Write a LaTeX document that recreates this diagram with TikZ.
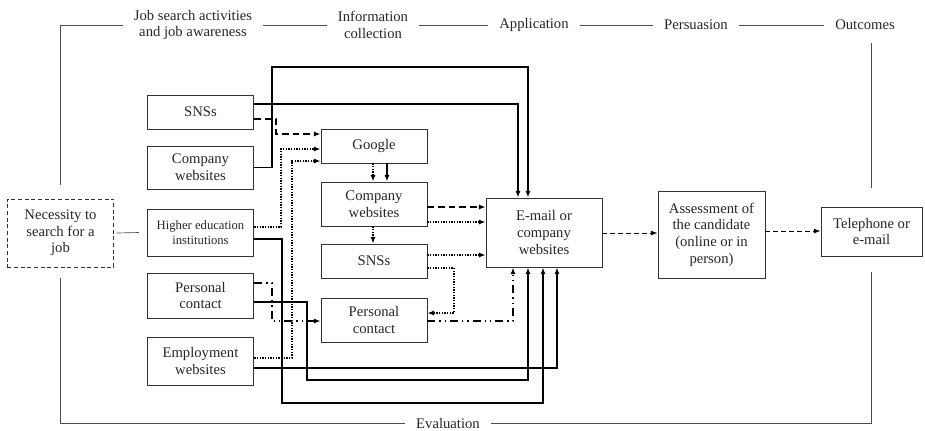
\documentclass[tikz,border=0pt]{standalone}
\usepackage{fontspec}
\setmainfont{Liberation Serif}
\usetikzlibrary{arrows.meta,calc}
\tikzset{
  box/.style={draw=black!80, line width=0.6pt, align=center, inner sep=2pt},
  startbox/.style={box, dashed, dash pattern=on 3pt off 2pt},
  stage/.style={align=center, inner xsep=8pt, inner ysep=2pt},
  frame/.style={draw=black!70, line width=0.5pt},
  solidflow/.style={-{Latex[length=5pt,width=3.8pt]}, line width=1.2pt},
  dashflow/.style={solidflow, dash pattern=on 5pt off 3pt},
  lightdash/.style={solidflow, line width=0.7pt, dash pattern=on 3.5pt off 2.5pt},
  dotflow/.style={solidflow, line width=1pt, dash pattern=on 1pt off 1pt},
  dashdotflow/.style={solidflow, dash pattern=on 6pt off 3pt on 1pt off 3pt on 1pt off 3pt}
}

\begin{document}
\begin{tikzpicture}[x=0.75pt, y=-0.75pt,
  every node/.style={font=\fontsize{11}{12.5}\selectfont, text=black!85}]
  \useasboundingbox (0,0) rectangle (925,430);

  % stages
  \node[stage] (h1) at (193,25) {Job search activities\\and job awareness};
  \node[stage] (h2) at (373,25) {Information\\collection};
  \node[stage] (h3) at (534,25) {Application};
  \node[stage] (h4) at (696,25) {Persuasion};
  \node[stage] (h5) at (865,25) {Outcomes};
  \node[stage] (eval) at (448,423) {Evaluation};

  % boxes
  \node[startbox, minimum width=80pt, minimum height=51pt] (need) at (60.5,233) {Necessity to\\search for a\\job};

  \node[box, minimum width=80pt, minimum height=25.5pt] (sns1) at (200.5,112) {SNSs};
  \node[box, minimum width=80pt, minimum height=32.3pt] (web1) at (200.5,167.5) {Company\\websites};
  \node[box, minimum width=80pt, minimum height=35.3pt, font=\fontsize{9.5}{10.8}\selectfont] (hei) at (200.5,232.5) {Higher education\\institutions};
  \node[box, minimum width=80pt, minimum height=33.8pt] (pc1) at (200.5,295.5) {Personal\\contact};
  \node[box, minimum width=80pt, minimum height=36pt] (emp) at (200.5,361) {Employment\\websites};

  \node[box, minimum width=79.5pt, minimum height=25.5pt] (google) at (374,146) {Google};
  \node[box, minimum width=79.5pt, minimum height=33pt] (web2) at (374,204) {Company\\websites};
  \node[box, minimum width=79.5pt, minimum height=25.5pt] (sns2) at (374,261) {SNSs};
  \node[box, minimum width=79.5pt, minimum height=33pt] (pc2) at (374,320) {Personal\\contact};

  \node[box, minimum width=87pt, minimum height=51.8pt] (email) at (544,232.5) {E-mail or\\company\\websites};
  \node[box, minimum width=80.3pt, minimum height=65.3pt] (assess) at (711.5,234.5) {Assessment of\\the candidate\\(online or in\\person)};
  \node[box, minimum width=75.8pt, minimum height=36.8pt] (phone) at (871.5,231.5) {Telephone or\\e-mail};

  % frame round the process
  \draw[frame] ([yshift=10pt]need.north) |- (h1.west);
  \draw[frame] (h1.east) -- (h2.west);
  \draw[frame] (h2.east) -- (h3.west);
  \draw[frame] (h3.east) -- (h4.west);
  \draw[frame] (h4.east) -- (h5.west);
  \draw[frame] ($(h5.south -| phone.north)+(0,10)$) -- ([yshift=14pt]phone.north);
  \draw[frame] ([yshift=-8pt]need.south) |- (eval.west);
  \draw[frame] (eval.east) -| ([yshift=-12pt]phone.south);
  \draw[frame] ([xshift=2pt]need.east) -- ([xshift=-6pt]hei.west);

  % direct applications
  \draw[solidflow] (sns1.east |- 0,104) -| (email.north -| 518,0);
  \draw[solidflow] (web1.east) -| (272,67) -| (email.north -| 528,0);
  \draw[solidflow] (hei.east |- 0,239) -| (282,403) -| (email.south -| 543,0);
  \draw[solidflow] (pc1.east |- 0,302) -| (307,380) -| (email.south -| 528,0);
  \draw[solidflow] (emp.east |- 0,368) -| (email.south -| 557,0);

  % searching for information
  \draw[dashflow] (sns1.east |- 0,119) -| (276,134) -- (google.west |- 0,134);
  \draw[dotflow] (hei.east |- 0,227) -| (281,149) -- (google.west |- 0,149);
  \draw[dotflow] (emp.east |- 0,358) -| (292,161) -- (google.west |- 0,161);
  \draw[dotflow] (google.south -| 373,0) -- (web2.north -| 373,0);
  \draw[solidflow] (google.south -| 387,0) -- (web2.north -| 387,0);
  \draw[dotflow] (web2.south -| 373,0) -- (sns2.north -| 373,0);
  \draw[dashdotflow] (pc1.east |- 0,283) -| (272,321) -- (pc2.west |- 0,321);
  \draw[dotflow] (sns2.east |- 0,268) -| (454,313) -- (pc2.east |- 0,313);

  % applying
  \draw[dashflow] (web2.east |- 0,207) -- (email.west |- 0,207);
  \draw[dotflow] (web2.east |- 0,222) -- (email.west |- 0,222);
  \draw[dotflow] (sns2.east |- 0,255) -- (email.west |- 0,255);
  \draw[dashdotflow] (pc2.east |- 0,321) -| (email.south -| 513,0);

  % persuasion and outcome
  \draw[lightdash] (email.east |- 0,233) -- (assess.west |- 0,233);
  \draw[lightdash] (assess.east |- 0,231) -- (phone.west |- 0,231);
\end{tikzpicture}
\end{document}
